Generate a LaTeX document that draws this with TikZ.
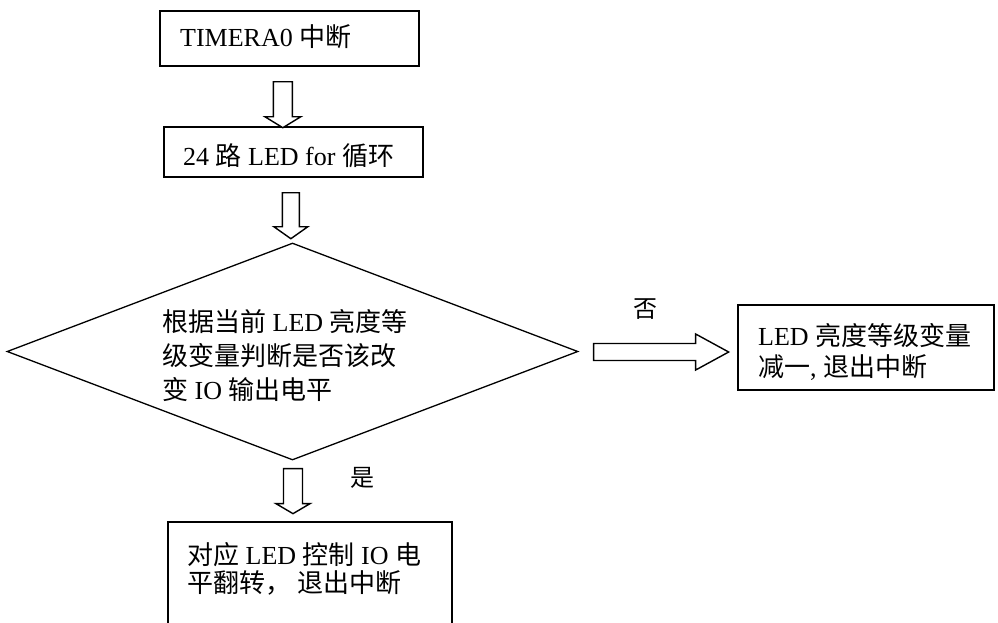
\documentclass[tikz,border=0pt]{standalone}
\usepackage{fontspec}
\setmainfont{Liberation Serif}
\newfontfamily\cjk{Noto Sans CJK SC}
\usetikzlibrary{calc,shapes.geometric}
\newcommand{\zh}[1]{{\cjk #1}}
\tikzset{
  box/.style={draw, line width=1.7pt, anchor=north west, inner sep=0pt},
  dia/.style={draw, diamond, line width=1.3pt, inner sep=0pt},
  txt/.style={anchor=west, inner sep=0pt, align=left},
  barrow/.style={draw, line width=1.4pt, fill=white, line join=miter},
  lbl/.style={inner sep=0pt, font=\fontsize{24}{28}\selectfont},
}
% #1 start coordinate, #2 angle, #3 length, #4 shaft half width, #5 head half width, #6 head length
\newcommand{\blockarrow}[6]{%
  \path[barrow, shift={(#1)}, rotate=#2] (0,#4) -- ({#3-#6},#4) -- ({#3-#6},#5) -- (#3,0)
    -- ({#3-#6},-#5) -- ({#3-#6},-#4) -- (0,-#4) -- cycle;}
\begin{document}
\begin{tikzpicture}[x=1pt,y=1pt]
\useasboundingbox (0,0) rectangle (998,-622);
\clip (0,0) rectangle (998,-622);

% boxes
\node[box, minimum width=259pt, minimum height=55pt] (b1) at (159,-10) {};
\node[txt, font=\fontsize{26}{30}\selectfont] (t1) at (180,-37) {TIMERA0 \zh{中断}};

\node[box, minimum width=259pt, minimum height=50pt] (b2) at (163,-126) {};
\node[txt, font=\fontsize{26}{30}\selectfont] (t2) at (183,-156) {24 \zh{路} LED for \zh{循环}};

\node[dia, minimum width=571pt, minimum height=217pt] (d) at (292.5,-351.5) {};
\node[txt, font=\fontsize{26}{34}\selectfont] (t3) at (162,-356)
  {\zh{根据当前} LED \zh{亮度等}\\\zh{级变量判断是否该改}\\\zh{变} IO \zh{输出电平}};

\node[box, minimum width=256pt, minimum height=85pt] (b3) at (737,-304) {};
\node[txt, font=\fontsize{26}{31}\selectfont] (t4) at (758,-352)
  {LED \zh{亮度等级变量}\\\zh{减一}, \zh{退出中断}};

\node[box, minimum width=284pt, minimum height=140pt] (b4) at (167,-521) {};
\node[txt, font=\fontsize{26}{28}\selectfont] (t5) at (187,-569)
  {\zh{对应} LED \zh{控制} IO \zh{电}\\\zh{平翻转，} \zh{退出中断}};

% block arrows
\coordinate (a1s) at ($(b1.south)+(-6.5,-15)$);
\coordinate (a2s) at ($(b2.south)+(-2.5,-15)$);
\coordinate (a3s) at ($(d.south)+(0.5,-8)$);
\coordinate (a4s) at ($(d.east)+(15,-0.5)$);
\blockarrow{a1s}{-90}{46}{9.5}{18}{11}
\blockarrow{a2s}{-90}{46}{8.5}{17}{12}
\blockarrow{a3s}{-90}{45}{9.5}{17}{10}
\blockarrow{a4s}{0}{135}{8.5}{18}{33}

% labels
\node[lbl] (no) at (645,-309) {\zh{否}};
\node[lbl] (yes) at (362,-478) {\zh{是}};
\end{tikzpicture}
\end{document}
